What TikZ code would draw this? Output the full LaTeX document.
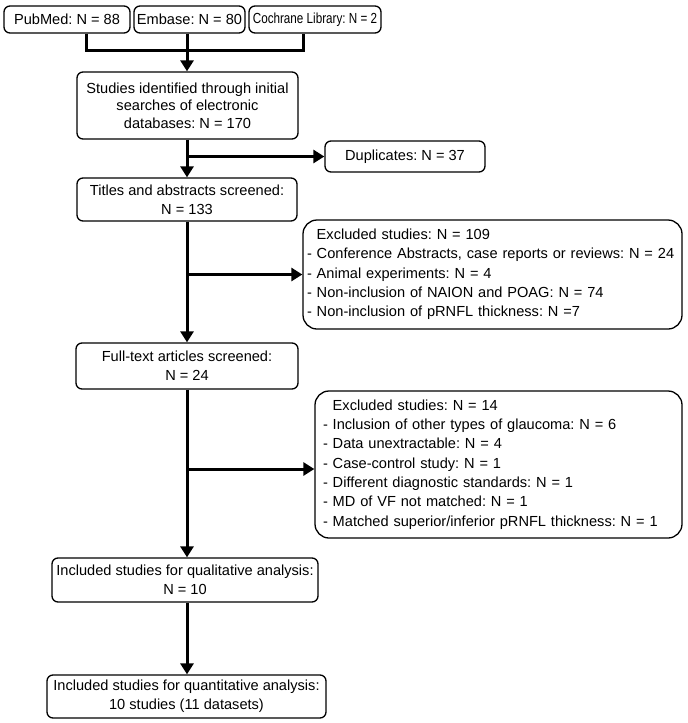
\documentclass[tikz,border=0pt]{standalone}
\usepackage{fontspec}
\setmainfont{Liberation Sans}
\usetikzlibrary{arrows.meta}
\frenchspacing
\begin{document}
\begin{tikzpicture}[x=1pt,y=-1pt,
  box/.style={draw=black, line width=1.3pt, rounded corners=6pt, inner sep=0pt, align=center, font=\fontsize{14.6}{19}\selectfont\frenchspacing},
  exbox/.style={draw=black, line width=1.3pt, rounded corners=14pt, inner ysep=0pt, align=left, font=\fontsize{14.6}{19.3}\selectfont\frenchspacing},
  conn/.style={line width=3pt},
  arr/.style={line width=3pt, -{Triangle[width=13pt,length=11pt]}}]
\useasboundingbox (0,0) rectangle (688,723);
\fill[white] (0,0) rectangle (688,723);

\node[box, minimum width=126pt, minimum height=27pt] (pub) at (67,19.5) {PubMed: N = 88};
\node[box, minimum width=111pt, minimum height=27pt] (emb) at (189.5,19.5) {Embase: N = 80};
\node[box, minimum width=132pt, minimum height=27pt] (coch) at (315,19.5) {\scalebox{0.8}[1]{Cochrane Library: N = 2}};

\node[box, minimum width=221pt, minimum height=67pt, font=\fontsize{14.6}{17.5}\selectfont\frenchspacing] (ident) at (187.5,105.5) {Studies identified through initial\\ searches of electronic\\ databases: N = 170};
\node[box, minimum width=160pt, minimum height=31pt] (dup) at (405,156.5) {Duplicates: N = 37};
\node[box, minimum width=220pt, minimum height=43pt] (titles) at (187,199.5) {Titles and abstracts screened:\\ N = 133};
\node[exbox, inner xsep=4pt, text width=371pt, minimum height=109pt] (exc1) at (492.5,274.5) {\phantom{- }Excluded studies: N = 109\\
- Conference Abstracts, case reports or reviews: N = 24\\
- Animal experiments: N = 4\\
- Non-inclusion of NAION and POAG: N = 74\\
- Non-inclusion of pRNFL thickness: N =7};
\node[box, minimum width=222pt, minimum height=46pt] (full) at (187,366) {Full-text articles screened:\\ N = 24};
\node[exbox, inner xsep=8pt, text width=351pt, minimum height=147pt] (exc2) at (498.5,464.5) {\phantom{- }Excluded studies: N = 14\\
- Inclusion of other types of glaucoma: N = 6\\
- Data unextractable: N = 4\\
- Case-control study: N = 1\\
- Different diagnostic standards: N = 1\\
- MD of VF not matched: N = 1\\
- Matched superior/inferior pRNFL thickness: N = 1};
\node[box, minimum width=266pt, minimum height=44pt] (qual) at (185,580) {Included studies for qualitative analysis:\\ N = 10};
\node[box, minimum width=279pt, minimum height=43pt] (quant) at (186.5,696.5) {Included studies for quantitative analysis:\\ 10 studies (11 datasets)};

\coordinate (j1) at (86,50);
\coordinate (j3) at (303,50);
\coordinate (s) at (187,50);
\draw[conn] (j1 |- pub.south) -- (j1) -- (j3) -- (j3 |- coch.south);
\draw[conn] (s |- emb.south) -- (s);
\draw[arr] (s) -- (s |- ident.north);

\coordinate (b0) at (187,156.5);
\draw[arr] (s |- ident.south) -- (s |- titles.north);
\draw[arr] (b0) -- (dup.west);

\coordinate (b1) at (187,274.5);
\draw[arr] (s |- titles.south) -- (s |- full.north);
\draw[arr] (b1) -- (exc1.west);

\coordinate (b2) at (187,469);
\draw[arr] (s |- full.south) -- (s |- qual.north);
\draw[arr] (b2) -- (b2 -| exc2.west);

\draw[arr] (s |- qual.south) -- (s |- quant.north);
\end{tikzpicture}
\end{document}
